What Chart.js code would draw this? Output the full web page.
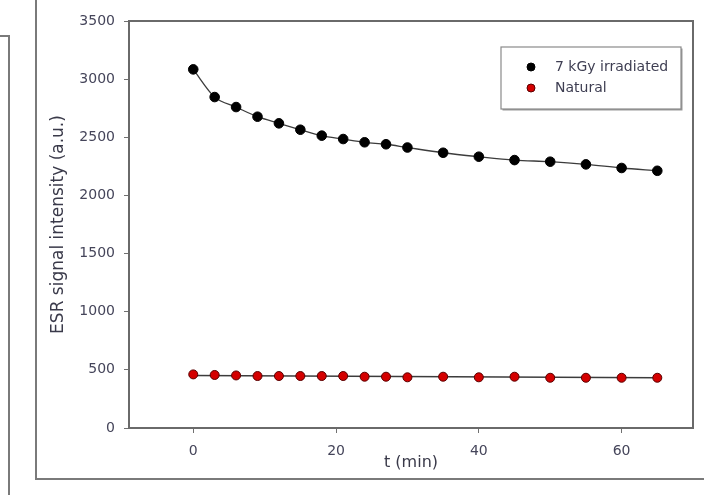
<!DOCTYPE html>
<html>
<head>
<meta charset="utf-8">
<script src="https://cdn.jsdelivr.net/npm/chart.js@4.4.1/dist/chart.umd.min.js"></script>
<style>
  html, body { margin: 0; padding: 0; background: #ffffff; }
  canvas { display: block; }
</style>
</head>
<body>
<canvas id="c" width="704" height="495"></canvas>
<script>
// ---- data ----
const times = [0, 3, 6, 9, 12, 15, 18, 21, 24, 27, 30, 35, 40, 45, 50, 55, 60, 65];
const irradiated = [3084, 2846, 2760, 2677, 2620, 2565, 2514, 2485, 2457, 2440, 2412, 2367, 2333, 2304, 2290, 2267, 2236, 2212];
const natural = [461, 456, 452, 447, 447, 447, 447, 447, 441, 441, 436, 441, 436, 441, 432, 432, 432, 432];
const naturalFitT = [0, 65];
const naturalFit = [452, 433];
const xTicks = [0, 20, 40, 60];
const yTicks = [0, 500, 1000, 1500, 2000, 2500, 3000, 3500];
const seriesLabels = ['7 kGy irradiated', 'Natural'];
const xTitle = 't (min)';
const yTitle = 'ESR signal intensity (a.u.)';

const pts = (xs, ys) => xs.map((x, i) => ({ x: x, y: ys[i] }));

const FONT = "'DejaVu Sans', sans-serif";
const TICK_COLOR = '#45455a';
const AXIS_COLOR = '#707070';

const framePlugin = {
  id: 'frames',
  beforeDraw(chart) {
    const ctx = chart.ctx;
    ctx.save();
    ctx.fillStyle = '#ffffff';
    ctx.fillRect(0, 0, chart.width, chart.height);
    ctx.strokeStyle = '#7a7a7a';
    ctx.lineWidth = 2;
    ctx.beginPath();
    ctx.moveTo(0, 36); ctx.lineTo(9, 36); ctx.lineTo(9, 495);
    ctx.stroke();
    ctx.beginPath();
    ctx.moveTo(36, 0); ctx.lineTo(36, 479); ctx.lineTo(704, 479);
    ctx.stroke();
    ctx.restore();
  },
  afterDatasetsDraw(chart) {
    const ctx = chart.ctx;
    const a = chart.chartArea;
    ctx.save();
    ctx.strokeStyle = '#6a6a6a';
    ctx.lineWidth = 2;
    ctx.strokeRect(a.left, a.top, a.right - a.left, a.bottom - a.top);
    const lx = 501, ly = 47, lw = 180, lh = 62;
    ctx.fillStyle = '#9a9a9a';
    ctx.fillRect(lx + 1.5, ly + 1.5, lw, lh);
    ctx.fillStyle = '#ffffff';
    ctx.fillRect(lx, ly, lw, lh);
    ctx.strokeStyle = '#8a8a8a';
    ctx.lineWidth = 1.2;
    ctx.strokeRect(lx, ly, lw, lh);
    const entries = [
      { label: seriesLabels[0], fill: '#000000', stroke: '#000000', y: 67 },
      { label: seriesLabels[1], fill: '#d40000', stroke: '#5a0000', y: 88 }
    ];
    ctx.font = "14px " + FONT;
    ctx.textBaseline = 'middle';
    ctx.textAlign = 'left';
    entries.forEach(e => {
      ctx.beginPath();
      ctx.arc(531, e.y, 4, 0, Math.PI * 2);
      ctx.fillStyle = e.fill; ctx.fill();
      ctx.strokeStyle = e.stroke; ctx.lineWidth = 1; ctx.stroke();
      ctx.fillStyle = '#3e3e52';
      ctx.fillText(e.label, 555, e.y);
    });
    ctx.restore();
  }
};

new Chart(document.getElementById('c'), {
  type: 'scatter',
  data: {
    datasets: [
      {
        label: seriesLabels[0] + ' fit',
        data: pts(times, irradiated),
        showLine: true,
        cubicInterpolationMode: 'monotone',
        borderColor: '#3c3c3c',
        borderWidth: 1.3,
        pointRadius: 0,
        order: 3
      },
      {
        label: seriesLabels[1] + ' fit',
        data: pts(naturalFitT, naturalFit),
        showLine: true,
        borderColor: '#3c3c3c',
        borderWidth: 1.5,
        pointRadius: 0,
        order: 3
      },
      {
        label: seriesLabels[0],
        data: pts(times, irradiated),
        pointRadius: 4.8,
        pointBackgroundColor: '#000000',
        pointBorderColor: '#000000',
        pointBorderWidth: 1,
        order: 1
      },
      {
        label: seriesLabels[1],
        data: pts(times, natural),
        pointRadius: 4.5,
        pointBackgroundColor: '#d40000',
        pointBorderColor: '#5a0000',
        pointBorderWidth: 1,
        order: 1
      }
    ]
  },
  options: {
    responsive: false,
    animation: false,
    devicePixelRatio: 1,
    layout: { padding: { top: 21, right: 11, bottom: 23, left: 0 } },
    plugins: {
      legend: { display: false },
      tooltip: { enabled: false }
    },
    scales: {
      x: {
        type: 'linear',
        min: -9,
        max: 70,
        afterBuildTicks(scale) { scale.ticks = xTicks.map(v => ({ value: v })); },
        afterFit(scale) { scale.height = 44; },
        border: { display: true, color: AXIS_COLOR, width: 2 },
        grid: { drawOnChartArea: false, drawTicks: true, tickLength: 5, color: AXIS_COLOR, tickWidth: 1 },
        ticks: {
          padding: 10, color: TICK_COLOR, font: { family: FONT, size: 14 }, maxRotation: 0,
          callback: v => String(v)
        },
        title: {
          display: true, text: xTitle, color: '#3a3a4a',
          font: { family: FONT, size: 16 }, padding: { top: 0, bottom: 0 }
        }
      },
      y: {
        type: 'linear',
        min: 0,
        max: 3500,
        afterBuildTicks(scale) { scale.ticks = yTicks.map(v => ({ value: v })); },
        afterFit(scale) { scale.width = 129; },
        border: { display: true, color: AXIS_COLOR, width: 2 },
        grid: { drawOnChartArea: false, drawTicks: true, tickLength: 5, color: AXIS_COLOR, tickWidth: 1 },
        ticks: {
          padding: 9, color: TICK_COLOR, font: { family: FONT, size: 14 },
          callback: v => String(v)
        },
        title: {
          display: true, text: yTitle, color: '#3a3a4a',
          font: { family: FONT, size: 17 }, padding: { top: 48, bottom: 0 }
        }
      }
    }
  },
  plugins: [framePlugin]
});
</script>
</body>
</html>
